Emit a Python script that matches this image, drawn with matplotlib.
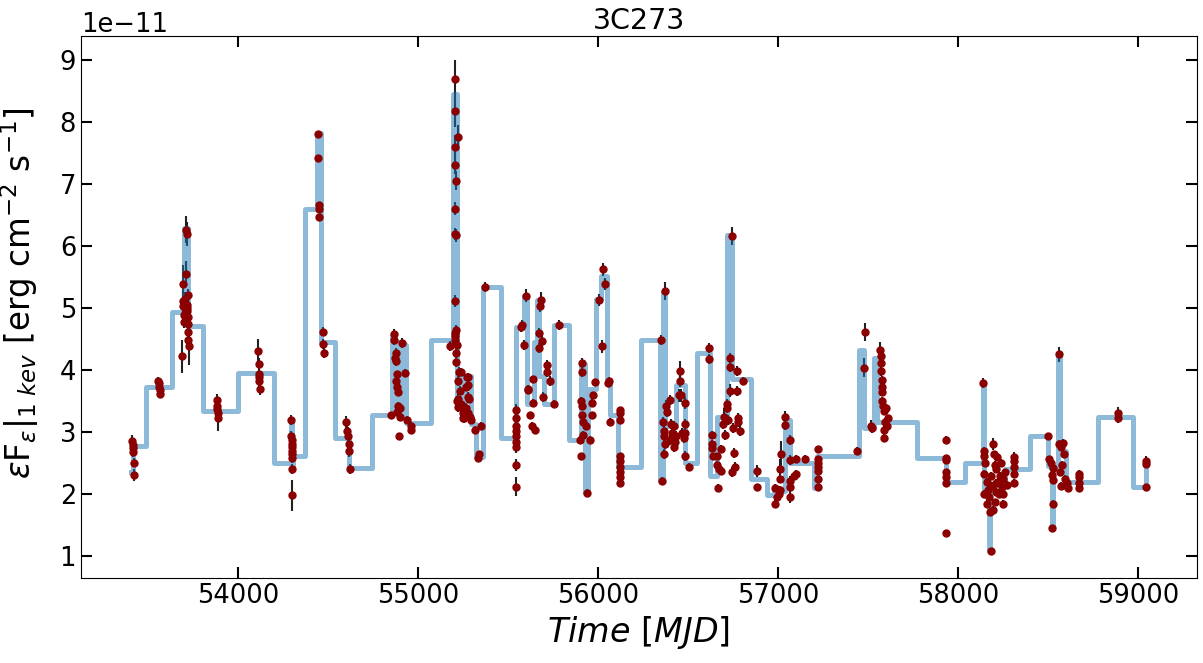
import numpy as np
import matplotlib
matplotlib.use("Agg")
import matplotlib.pyplot as plt

# Curva de luz 3C273 (flujo a 1 keV, unidades de 1e-11 erg cm-2 s-1)
t_mjd = [
    53410, 53412, 53414, 53416, 53418, 53420,
    53555, 53558, 53560, 53562, 53565,
    53687, 53690, 53692, 53694, 53696, 53700, 53710, 53714, 53710, 53718, 53716, 53716,
    53720, 53720, 53720, 53720, 53724, 53705, 53707, 53712, 53702,
    53880, 53882, 53883, 53885, 53887,
    54110, 54112, 54113, 54114, 54115, 54117,
    54293, 54294, 54295, 54296, 54296, 54297, 54297, 54298, 54299, 54296,
    54440, 54442, 54445, 54447, 54450,
    54470, 54472, 54475,
    54600, 54605, 54610, 54612, 54615, 54620,
    54863, 54863, 54873, 54869, 54873, 54878, 54873, 54878, 54884, 54909, 54925, 54887,
    54896, 54878, 54847, 54896, 54893, 54934, 54961, 54961,
    55205, 55205, 55220, 55205, 55205, 55211, 55205, 55211, 55205, 55201, 55205, 55201,
    55174, 55207, 55211, 55224, 55220, 55229, 55220, 55238, 55275, 55275, 55266, 55253,
    55203, 55208, 55212, 55215, 55222, 55245, 55260,
    55238, 55271, 55275, 55266, 55279, 55257, 55275, 55284, 55247, 55294, 55312, 55345,
    55331, 55334, 55371,
    55543, 55543, 55543, 55543, 55543, 55543, 55543, 55543, 55543,
    55571, 55574, 55589, 55600, 55607, 55611, 55635, 55639, 55620, 55630, 55648, 55667,
    55667, 55674, 55681, 55687, 55715, 55713, 55733, 55692, 55755, 55778,
    55909, 55909, 55903, 55907, 55907, 55912, 55931, 55912, 55899, 55903, 55934, 55953,
    55962, 55962, 55971, 55982,
    56005, 56018, 56027, 56036, 56051, 56060, 56066,
    56117, 56117, 56117, 56117, 56117, 56117, 56117, 56117, 56117,
    56345, 56352,
    56371, 56374, 56380, 56398, 56361, 56365, 56365, 56369, 56365, 56405, 56420, 56411,
    56430, 56417, 56448, 56453, 56453, 56457, 56466, 56476, 56481, 56481, 56481, 56481,
    56503, 56398, 56424,
    56614, 56614, 56629, 56633, 56633, 56638, 56660, 56657, 56670, 56679, 56664, 56679,
    56694, 56697, 56701, 56712, 56716, 56719, 56730, 56730, 56730, 56740, 56749, 56753,
    56743, 56756, 56767, 56767, 56775, 56775, 56786, 56803,
    56882, 56882,
    56983, 56983, 56993, 57002, 57011, 57011, 57011, 57015,
    57039, 57039, 57063, 57066, 57066, 57066, 57066, 57085, 57098, 57098, 57150,
    57218, 57218, 57218, 57218, 57218, 57218, 57218,
    57436, 57482, 57477, 57515, 57519,
    57565, 57569, 57571, 57569, 57574, 57574, 57574, 57574, 57580, 57584, 57598, 57611,
    57593, 57602, 57584, 57584,
    57931, 57931, 57931, 57931, 57931, 57931, 57931,
    58137, 58141, 58141, 58146, 58141, 58143, 58156, 58174, 58193, 58193, 58197, 58202,
    58211, 58230, 58211, 58239, 58248, 58226, 58248, 58165, 58184, 58171, 58202, 58211,
    58258, 58267, 58178, 58160, 58180, 58220, 58235, 58250, 58215,
    58307, 58307, 58307, 58307, 58307,
    58498, 58503, 58516, 58525, 58522, 58525, 58525, 58520, 58559, 58559, 58572, 58581,
    58585, 58577, 58566, 58572, 58590, 58603, 58609,
    58670, 58670, 58670, 58670,
    58886, 58886,
    59039, 59039, 59039,
]
flux = [
    2.85, 2.80, 2.75, 2.68, 2.51, 2.31,
    3.83, 3.79, 3.73, 3.68, 3.62,
    4.22, 5.39, 5.11, 5.03, 4.88, 4.77, 6.26, 6.19, 5.55, 5.21, 5.05, 4.95,
    4.86, 4.74, 4.62, 4.48, 4.38, 5.15, 4.95, 5.00, 4.90,
    3.52, 3.42, 3.37, 3.30, 3.22,
    4.30, 4.09, 3.93, 3.88, 3.82, 3.69,
    3.19, 2.93, 2.87, 2.81, 2.76, 2.70, 2.64, 2.58, 2.41, 1.98,
    7.80, 7.42, 6.65, 6.60, 6.46,
    4.62, 4.42, 4.28,
    3.16, 3.02, 2.93, 2.81, 2.70, 2.41,
    4.58, 4.48, 4.28, 4.19, 4.14, 3.93, 3.82, 3.73, 3.65, 4.44, 3.95, 3.42,
    3.39, 3.33, 3.27, 3.24, 2.93, 3.20, 3.10, 3.04,
    8.69, 8.17, 7.75, 7.59, 7.31, 7.05, 6.60, 6.17, 5.11, 4.59, 4.54, 4.48,
    4.38, 4.28, 4.13, 3.97, 3.82, 3.67, 3.53, 3.45, 3.88, 3.56, 3.39, 3.22,
    6.19, 4.65, 4.40, 3.50, 3.40, 3.30, 3.28,
    3.97, 3.88, 3.76, 3.73, 3.53, 3.39, 3.30, 3.24, 3.22, 3.19, 3.04, 3.10,
    2.58, 2.64, 5.33,
    3.36, 3.22, 3.10, 3.02, 2.93, 2.84, 2.76, 2.47, 2.12,
    4.69, 4.72, 4.41, 5.20, 3.70, 3.68, 3.85, 3.47, 3.27, 3.10, 3.04, 4.59,
    4.36, 5.03, 5.13, 4.47, 4.08, 3.97, 3.83, 3.57, 3.45, 4.72,
    4.12, 3.97, 3.50, 3.42, 3.27, 3.16, 3.10, 2.96, 2.87, 2.61, 2.02, 2.88,
    3.27, 3.47, 3.59, 3.80,
    5.13, 4.38, 5.62, 5.39, 3.79, 3.82, 3.17,
    3.36, 3.30, 3.19, 2.61, 2.53, 2.44, 2.35, 2.27, 2.18,
    4.49, 2.21,
    5.27, 3.42, 3.33, 3.51, 3.17, 3.02, 2.93, 2.81, 2.64, 3.13, 3.10, 2.99,
    2.93, 2.76, 3.59, 3.99, 3.82, 3.59, 2.99, 2.90, 3.47, 3.13, 2.99, 2.61,
    2.44, 2.87, 2.84,
    4.36, 4.18, 2.96, 2.81, 2.75, 2.61, 2.61, 2.47, 2.41, 2.38, 2.10, 2.73,
    3.13, 3.24, 2.96, 3.45, 3.39, 3.19, 3.67, 4.05, 4.20, 6.16, 3.07, 2.67,
    2.35, 2.44, 3.99, 3.66, 3.22, 3.16, 3.02, 3.83,
    2.37, 2.11,
    2.10, 1.85, 1.95, 2.01, 2.07, 2.24, 2.41, 2.65,
    3.24, 3.11, 2.87, 2.55, 2.22, 2.12, 1.96, 2.30, 2.33, 2.57, 2.57,
    2.73, 2.56, 2.50, 2.44, 2.38, 2.25, 2.11,
    2.70, 4.61, 4.04, 3.10, 3.07,
    4.33, 4.22, 4.11, 3.99, 3.84, 3.73, 3.65, 3.50, 3.42, 3.34, 3.39, 3.22,
    3.16, 3.10, 3.04, 2.91,
    2.88, 2.58, 2.55, 2.35, 2.27, 2.18, 1.37,
    3.79, 2.70, 2.61, 2.50, 2.33, 2.01, 1.84, 1.72, 1.75, 2.81, 2.64, 2.47,
    2.41, 2.30, 2.18, 2.12, 2.24, 2.01, 1.84, 2.07, 2.13, 1.96, 1.87, 2.04,
    2.35, 2.15, 1.09, 2.20, 2.30, 2.20, 2.50, 2.00, 2.60,
    2.60, 2.53, 2.44, 2.33, 2.18,
    2.93, 2.56, 2.50, 2.42, 2.31, 2.23, 1.85, 1.46, 4.25, 2.81, 2.76, 2.83,
    2.64, 2.47, 2.35, 2.13, 2.25, 2.18, 2.10,
    2.33, 2.27, 2.18, 2.10,
    3.31, 3.22,
    2.53, 2.48, 2.11,
]
flux_err = [
    0.10, 0.08, 0.08, 0.08, 0.08, 0.10,
    0.06, 0.06, 0.06, 0.06, 0.06,
    0.27, 0.30, 0.20, 0.15, 0.12, 0.10, 0.22, 0.20, 0.20, 0.10, 0.10, 0.10,
    0.10, 0.10, 0.10, 0.10, 0.30, 0.10, 0.10, 0.10, 0.10,
    0.10, 0.08, 0.08, 0.08, 0.20,
    0.20, 0.10, 0.08, 0.08, 0.08, 0.10,
    0.08, 0.08, 0.08, 0.08, 0.08, 0.08, 0.08, 0.08, 0.08, 0.25,
    0.05, 0.05, 0.05, 0.05, 0.05,
    0.08, 0.08, 0.08,
    0.10, 0.15, 0.15, 0.10, 0.10, 0.08,
    0.08, 0.08, 0.08, 0.08, 0.08, 0.06, 0.06, 0.06, 0.06, 0.08, 0.06, 0.06,
    0.06, 0.06, 0.06, 0.06, 0.06, 0.06, 0.06, 0.06,
    0.30, 0.25, 0.20, 0.20, 0.15, 0.15, 0.10, 0.10, 0.10, 0.10, 0.10, 0.10,
    0.08, 0.08, 0.08, 0.08, 0.08, 0.08, 0.08, 0.08, 0.08, 0.08, 0.08, 0.08,
    0.10, 0.08, 0.08, 0.08, 0.08, 0.08, 0.08,
    0.06, 0.06, 0.06, 0.06, 0.06, 0.06, 0.06, 0.06, 0.06, 0.06, 0.06, 0.06,
    0.06, 0.06, 0.08,
    0.10, 0.08, 0.08, 0.08, 0.08, 0.08, 0.10, 0.10, 0.15,
    0.08, 0.08, 0.08, 0.10, 0.06, 0.06, 0.06, 0.06, 0.06, 0.06, 0.06, 0.08,
    0.08, 0.10, 0.12, 0.08, 0.08, 0.08, 0.08, 0.08, 0.06, 0.08,
    0.08, 0.08, 0.06, 0.06, 0.06, 0.06, 0.06, 0.06, 0.06, 0.06, 0.06, 0.06,
    0.06, 0.06, 0.06, 0.06,
    0.10, 0.10, 0.10, 0.10, 0.06, 0.06, 0.06,
    0.05, 0.05, 0.05, 0.05, 0.05, 0.05, 0.05, 0.05, 0.05,
    0.08, 0.06,
    0.15, 0.10, 0.08, 0.08, 0.08, 0.08, 0.08, 0.08, 0.08, 0.08, 0.08, 0.08,
    0.08, 0.08, 0.10, 0.15, 0.10, 0.10, 0.08, 0.08, 0.10, 0.08, 0.08, 0.08,
    0.06, 0.08, 0.08,
    0.08, 0.08, 0.06, 0.06, 0.06, 0.06, 0.06, 0.06, 0.06, 0.06, 0.06, 0.06,
    0.08, 0.15, 0.08, 0.08, 0.08, 0.08, 0.10, 0.08, 0.08, 0.15, 0.08, 0.08,
    0.08, 0.08, 0.08, 0.08, 0.08, 0.08, 0.08, 0.06,
    0.10, 0.06,
    0.06, 0.06, 0.06, 0.06, 0.06, 0.06, 0.15, 0.20,
    0.10, 0.08, 0.08, 0.08, 0.08, 0.08, 0.10, 0.06, 0.06, 0.06, 0.06,
    0.05, 0.05, 0.05, 0.05, 0.05, 0.05, 0.05,
    0.06, 0.15, 0.15, 0.10, 0.08,
    0.12, 0.08, 0.08, 0.08, 0.06, 0.06, 0.06, 0.06, 0.06, 0.06, 0.06, 0.06,
    0.06, 0.06, 0.06, 0.06,
    0.06, 0.05, 0.05, 0.05, 0.05, 0.05, 0.05,
    0.08, 0.06, 0.06, 0.06, 0.06, 0.06, 0.06, 0.06, 0.06, 0.10, 0.06, 0.06,
    0.06, 0.06, 0.06, 0.06, 0.06, 0.06, 0.06, 0.06, 0.06, 0.06, 0.06, 0.06,
    0.06, 0.06, 0.05, 0.06, 0.06, 0.06, 0.06, 0.06, 0.06,
    0.08, 0.06, 0.06, 0.06, 0.06,
    0.06, 0.06, 0.06, 0.06, 0.06, 0.06, 0.06, 0.05, 0.12, 0.06, 0.06, 0.06,
    0.06, 0.06, 0.06, 0.06, 0.06, 0.06, 0.06,
    0.06, 0.06, 0.06, 0.06,
    0.10, 0.08,
    0.08, 0.06, 0.05,
]

# Bloques bayesianos (bordes y nivel de cada bloque)
bb_edges = [
    53405, 53412, 53489, 53628, 53700, 53718, 53803, 53997, 54200, 54290, 54296, 54302,
    54370, 54435, 54457, 54537, 54614, 54740, 54851, 54870, 54885, 54900, 54915, 54930,
    55072, 55192, 55213, 55225, 55240, 55260, 55290, 55318, 55358, 55460, 55543, 55588,
    55605, 55640, 55660, 55672, 55700, 55755, 55838, 55903, 55925, 55940, 55986, 56014,
    56045, 56066, 56110, 56235, 56343, 56356, 56371, 56430, 56481, 56550, 56620, 56660,
    56716, 56740, 56845, 56937, 56975, 57035, 57066, 57195, 57214, 57448, 57477, 57530,
    57550, 57768, 57931, 58036, 58135, 58140, 58172, 58176, 58260, 58396, 58498, 58520,
    58525, 58555, 58562, 58600, 58775, 58970, 59040, 59048,
]
bb_flux = [
    2.35, 2.77, 3.72, 4.94, 6.29, 4.71, 3.34, 3.95, 2.50, 3.19, 2.41,
    2.61, 6.59, 7.81, 4.45, 2.91, 2.42, 3.27, 4.55, 3.35, 4.45, 3.30, 4.40,
    3.14, 4.48, 8.44, 3.60, 3.95, 3.30, 3.90, 3.13, 2.60, 5.34, 2.91, 4.69,
    5.20, 3.45, 4.45, 5.13, 3.90, 3.45, 4.72, 2.87, 4.10, 2.02, 3.70, 5.14,
    5.52, 3.80, 3.27, 2.44, 4.49, 2.21, 5.26, 3.10, 3.76, 2.50, 4.27, 2.30,
    3.24, 6.17, 3.85, 2.24, 1.98, 2.05, 3.19, 2.50, 2.10, 2.61, 4.33, 3.07,
    4.19, 3.17, 2.58, 2.20, 2.51, 3.79, 2.00, 1.09, 2.15, 2.40, 2.94, 2.45,
    1.46, 2.40, 4.25, 2.70, 2.20, 3.25, 2.11, 2.53,
]

escala = 1e-11
t = np.array(t_mjd)
f = np.array(flux) * escala
ef = np.array(flux_err) * escala
bb_x = np.array(bb_edges)
bb_y = np.append(bb_flux, bb_flux[-1]) * escala

fig = plt.figure(figsize=(12.03, 6.63), dpi=100)
ax = fig.add_axes([0.0673, 0.1282, 0.9277, 0.8175])

ax.errorbar(t, f, yerr=ef, fmt='none', ecolor='#222222', elinewidth=1.5, zorder=1)
ax.step(bb_x, bb_y, where='post', color='tab:blue', alpha=0.5, lw=3.6, zorder=2)
ax.plot(t, f, 'o', color='darkred', ms=5, zorder=3)

ax.set_xlim(53125, 59325)
ax.set_ylim(0.65e-11, 9.38e-11)
ax.set_xticks([54000, 55000, 56000, 57000, 58000, 59000])

ax.tick_params(direction='in', top=True, right=True, length=8, width=1.5, labelsize=18.5)
ax.yaxis.get_offset_text().set_fontsize(18.5)
ax.set_title('3C273', fontsize=20.5, pad=5)
ax.set_xlabel(r'$Time\ [MJD]$', fontsize=24)
ax.set_ylabel(r'$\varepsilon$F$_\varepsilon|_{1\ kev}$ [erg cm$^{-2}$ s$^{-1}$]', fontsize=23.5)
ax.yaxis.set_label_coords(-0.036, 0.525)

fig.savefig('out.png', dpi=100)
